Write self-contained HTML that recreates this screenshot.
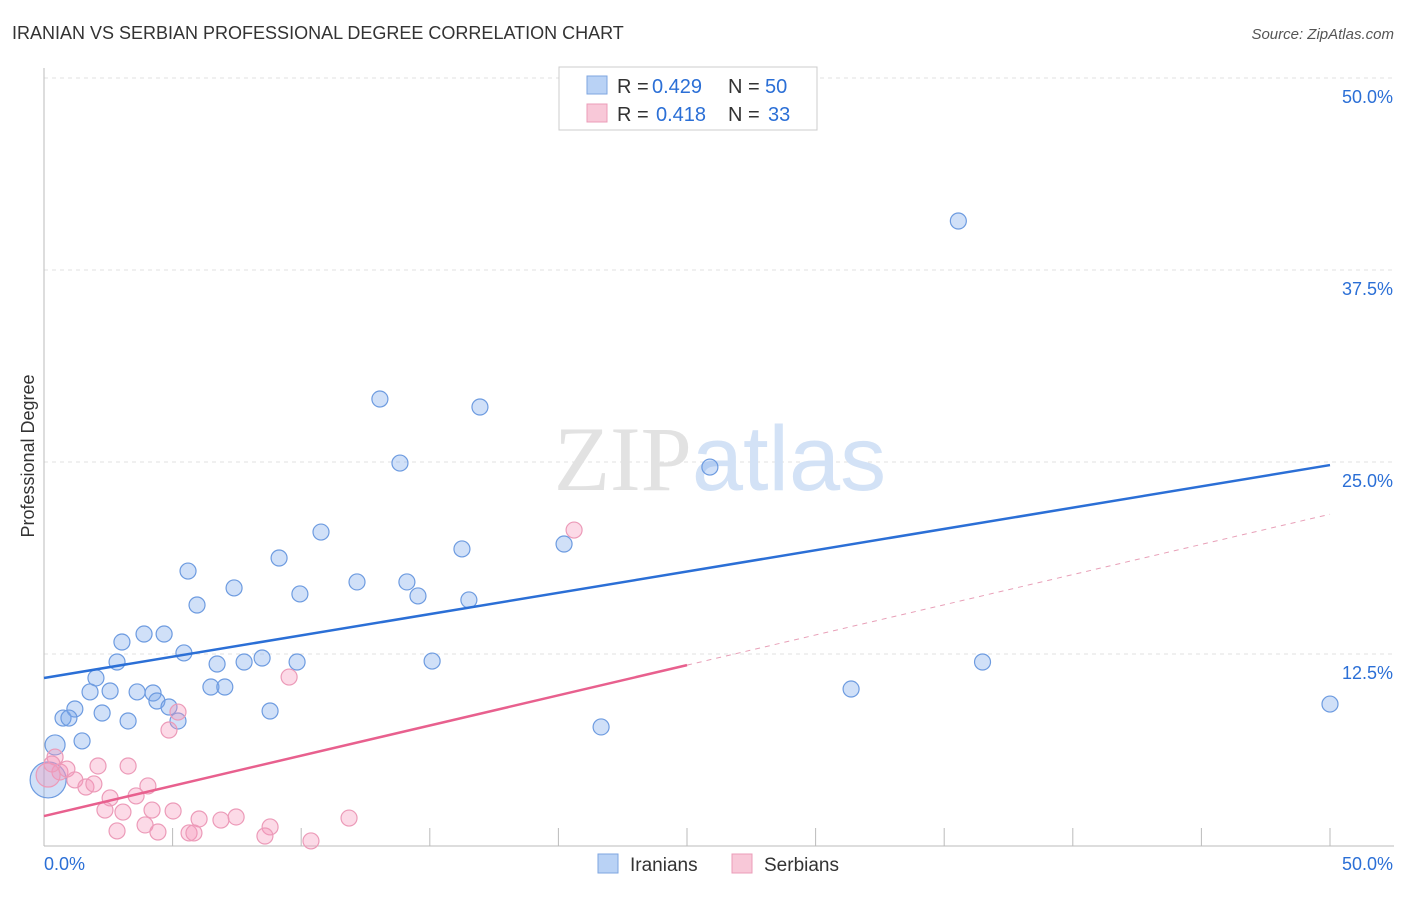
<!DOCTYPE html>
<html><head><meta charset="utf-8"><style>
body{margin:0;background:#fff;font-family:"Liberation Sans",sans-serif}
#wrap{position:relative;width:1406px;height:892px}
</style></head><body>
<div id="wrap">
<svg id="chart" width="1406" height="892" xmlns="http://www.w3.org/2000/svg">
<text x="12" y="39" font-size="18" fill="#333">IRANIAN VS SERBIAN PROFESSIONAL DEGREE CORRELATION CHART</text>
<text x="1394" y="39" font-size="15" fill="#555" font-style="italic" text-anchor="end">Source: ZipAtlas.com</text>
<text x="34" y="456" font-size="18" fill="#333" transform="rotate(-90 34 456)" text-anchor="middle">Professional Degree</text>
<g id="grid"></g>
<text x="720" y="490" font-size="92" fill="#e2e2e2" text-anchor="middle" font-family="Liberation Serif,serif">ZIP<tspan fill="#d3e2f6" font-family="Liberation Sans,sans-serif">atlas</tspan></text>
<g id="marks"></g>
<g>
<rect x="559" y="67" width="258" height="63" fill="#fff" stroke="#ccc"/>
<rect x="587" y="76" width="20" height="18" fill="#b9d2f5" stroke="#7ea6e0"/>
<rect x="587" y="104" width="20" height="18" fill="#f8c8d8" stroke="#eb9cb8"/>
<text y="93" font-size="20" fill="#333"><tspan x="617">R =</tspan><tspan x="652" fill="#2b6fd6">0.429</tspan><tspan x="728">N =</tspan><tspan x="765" fill="#2b6fd6">50</tspan></text>
<text y="121" font-size="20" fill="#333"><tspan x="617">R =</tspan><tspan x="656" fill="#2b6fd6">0.418</tspan><tspan x="728">N =</tspan><tspan x="768" fill="#2b6fd6">33</tspan></text>
</g>
<g>
<rect x="598" y="854" width="20" height="19" fill="#b9d2f5" stroke="#7ea6e0"/>
<text x="630" y="871" font-size="19" fill="#333">Iranians</text>
<rect x="732" y="854" width="20" height="19" fill="#f8c8d8" stroke="#eb9cb8"/>
<text x="764" y="871" font-size="19" fill="#333">Serbians</text>
</g>
</svg>
</div>
<script>
const yTicks=[12.5,25,37.5,50];
const yTickLabels=["12.5%","25.0%","37.5%","50.0%"];
const xTickLabels=["0.0%","50.0%"];
const iranX=[35.55,13.06,16.95,13.84,25.89,10.77,20.22,16.25,9.14,5.6,12.17,14.11,7.39,9.95,14.54,16.52,5.95,3.89,4.67,3.03,5.44,8.48,7.78,6.73,9.84,15.09,36.49,2.84,2.02,1.79,2.57,3.62,4.24,6.49,7.03,4.39,4.86,31.38,1.2,2.26,8.79,0.74,0.97,3.27,5.21,50,21.66,1.48,0.43,0.16];
const iranY=[40.69,29.10,28.58,24.93,24.67,20.44,19.66,19.34,18.75,17.90,17.19,17.19,16.80,16.41,16.28,16.02,15.69,13.80,13.80,13.28,12.57,12.24,11.98,11.85,11.98,12.04,11.98,11.98,10.94,10.03,10.09,10.03,9.96,10.35,10.35,9.44,9.05,10.22,8.92,8.66,8.79,8.33,8.33,8.14,8.14,9.24,7.75,6.84,6.58,4.30];
const serbX=[20.61,9.53,5.21,4.86,0.43,0.62,0.89,2.1,3.27,1.2,1.63,1.94,4.04,2.57,3.58,2.37,3.07,4.2,5.02,6.03,6.88,7.47,11.86,2.84,3.93,4.43,5.64,5.83,8.79,8.59,10.38,0.16,0.31];
const serbY=[20.57,11.0,8.72,7.55,5.79,4.82,5.01,5.21,5.21,4.30,3.84,4.04,3.91,3.13,3.26,2.34,2.21,2.34,2.28,1.76,1.69,1.89,1.82,0.98,1.37,0.91,0.85,0.85,1.24,0.65,0.33,4.62,5.34];
const iranLine=[10.94,24.8];
const serbLine=[1.95,21.6];
const X=v=>44+v/50*1286, Y=v=>846-v/50*768;
const NS="http://www.w3.org/2000/svg";
function mk(tag,attrs,parent){const e=document.createElementNS(NS,tag);for(const k in attrs)e.setAttribute(k,attrs[k]);parent.appendChild(e);return e;}
const grid=document.getElementById('grid'),marks=document.getElementById('marks');
yTicks.forEach((t,i)=>{
  const l=mk('line',{x1:44,x2:1394,y1:Y(t),y2:Y(t),stroke:'#e2e2e2','stroke-dasharray':'4,4'},grid);
  
  
  const tx=mk('text',{x:1393,y:Y(t)+25,'font-size':18,fill:'#2b6fd6','text-anchor':'end'},grid);
  tx.textContent=yTickLabels[i];
  
  
});
const ax=mk('line',{x1:44,x2:44,y1:68,y2:846,stroke:'#bbb'},grid);


const bx=mk('line',{x1:44,x2:1394,y1:846,y2:846,stroke:'#bbb'},grid);


for(let i=1;i<=10;i++){const t=mk('line',{x1:X(i*5),x2:X(i*5),y1:828,y2:846,stroke:'#bbb'},grid);
  
  }
const xl0=mk('text',{x:44,y:870,'font-size':18,fill:'#2b6fd6'},grid);xl0.textContent=xTickLabels[0];


const xl1=mk('text',{x:1393,y:870,'font-size':18,fill:'#2b6fd6','text-anchor':'end'},grid);xl1.textContent=xTickLabels[1];


iranX.forEach((x,i)=>{const r=(i==iranX.length-1)?18:(i==iranX.length-2?10:8);
  const c=mk('circle',{cx:X(x),cy:Y(iranY[i]),r:r,fill:'rgba(120,165,235,0.35)',stroke:'#6d9be0','stroke-width':1.2},marks);
  
  });
serbX.forEach((x,i)=>{const r=(i==serbX.length-2)?12:8;
  const c=mk('circle',{cx:X(x),cy:Y(serbY[i]),r:r,fill:'rgba(245,150,185,0.35)',stroke:'#ec9ab8','stroke-width':1.2},marks);
  
  });
const bl=mk('line',{x1:X(0),y1:Y(iranLine[0]),x2:X(50),y2:Y(iranLine[1]),stroke:'#2b6fd6','stroke-width':2.5},marks);


const pm=(serbLine[0]+serbLine[1])/2;
const pl=mk('line',{x1:X(0),y1:Y(serbLine[0]),x2:X(25),y2:Y(pm),stroke:'#e8608e','stroke-width':2.5},marks);


const pd=mk('line',{x1:X(25),y1:Y(pm),x2:X(50),y2:Y(serbLine[1]),stroke:'#e8a0b8','stroke-width':1,'stroke-dasharray':'5,5'},marks);


</script>
</body></html>
